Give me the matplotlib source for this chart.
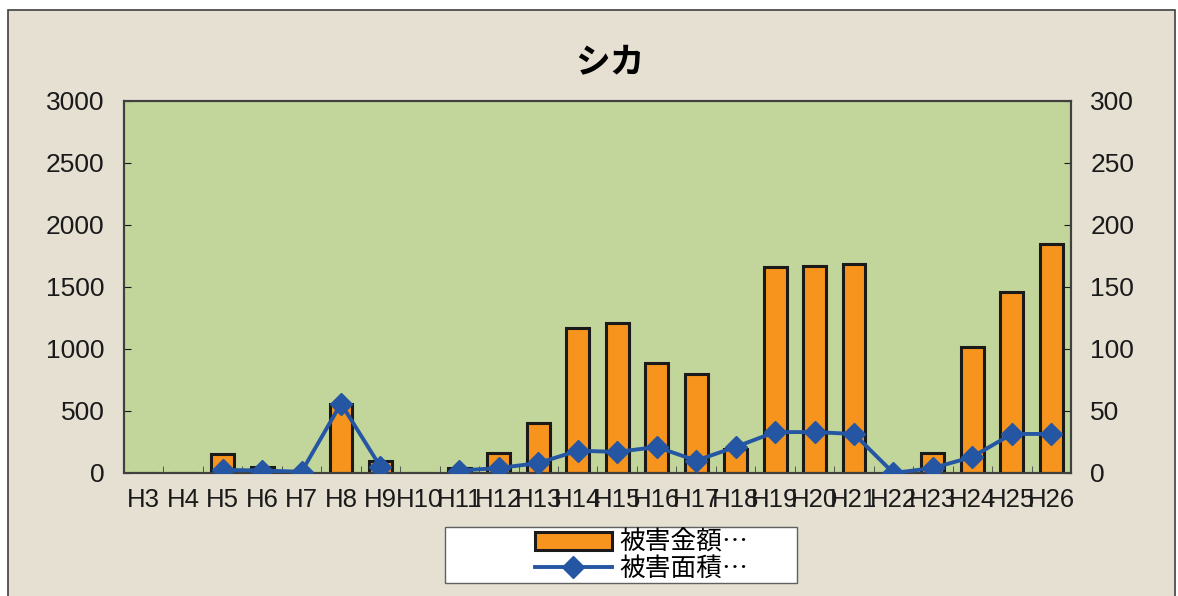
import numpy as np
import matplotlib.pyplot as plt
from matplotlib.patches import Rectangle
from matplotlib.lines import Line2D

plt.rcParams['font.family'] = ['Liberation Sans Narrow', 'Liberation Sans', 'Noto Sans CJK JP']

# years (Heisei)
years = ['H3', 'H4', 'H5', 'H6', 'H7', 'H8', 'H9', 'H10', 'H11', 'H12', 'H13', 'H14',
         'H15', 'H16', 'H17', 'H18', 'H19', 'H20', 'H21', 'H22', 'H23', 'H24', 'H25', 'H26']
# damage amount (left axis)
amount = [0, 0, 150, 45, 0, 560, 100, 0, 40, 160, 400, 1170,
          1210, 890, 800, 190, 1660, 1670, 1685, 0, 160, 1020, 1460, 1845]
# damaged area (right axis), nan = no data
area = [np.nan, np.nan, 2.5, 2, 1, 56, 5, np.nan, 2, 4, 8, 18,
        17, 21, 10, 21, 33, 33, 31.5, 0, 4, 13, 31.5, 31.5]

bg = '#e6e0d3'
fs = 19
fig = plt.figure(figsize=(11.78, 5.96), dpi=100, facecolor='white')
# textured panel -> plain beige
fig.patches.append(Rectangle((8 / 1178, -0.01), (1175 - 8) / 1178, 1 - 10 / 596 + 0.01,
                             transform=fig.transFigure, facecolor=bg,
                             edgecolor='#404040', linewidth=1.2, zorder=-10))

ax = fig.add_axes([124 / 1178, 1 - 473 / 596, (1071 - 124) / 1178, (473 - 101) / 596])
ax.set_facecolor('#c2d59b')
x = np.arange(len(years))
ax.bar(x, amount, width=0.58, color='#f7941d', edgecolor='#1a1a1a', linewidth=2.2, zorder=2)
ax.set_ylim(0, 3000)
ax.set_yticks(range(0, 3001, 500))
ax.set_xlim(-0.5, len(years) - 0.5)
ax.set_xticks(x)
ax.set_xticklabels(years)
ax.set_xticks(np.arange(-0.5, len(years), 1), minor=True)
ax.tick_params(axis='x', which='major', length=0, pad=11, labelsize=18.5, colors='#1a1a1a')
ax.tick_params(axis='x', which='minor', direction='in', length=5, color='#404040')
ax.tick_params(axis='y', direction='in', length=5, pad=14, labelsize=fs, colors='#1a1a1a')
for s in ax.spines.values():
    s.set_color('#404040')
    s.set_linewidth(1.5)

ax2 = ax.twinx()
ax2.plot(x, area, color='#2456a4', linewidth=2.8, marker='D', markersize=11, zorder=3)
ax2.set_ylim(0, 300)
ax2.set_yticks(range(0, 301, 50))
ax2.tick_params(axis='y', direction='in', length=5, pad=14, labelsize=fs, colors='#1a1a1a')
for s in ax2.spines.values():
    s.set_color('#404040')
    s.set_linewidth(1.5)

fig.text(610 / 1178, 1 - 62 / 596, 'シカ', ha='center', va='center', fontsize=25,
         fontweight='bold', family=['Noto Sans CJK JP'])

# legend box
fig.patches.append(Rectangle((445 / 1178, 1 - 583 / 596), 352 / 1178, 56 / 596,
                             transform=fig.transFigure, facecolor='white',
                             edgecolor='#606060', linewidth=1, zorder=5))
handles = [Rectangle((0, 0), 1, 1, facecolor='#f7941d', edgecolor='#1a1a1a', linewidth=2.2),
           Line2D([], [], color='#2456a4', linewidth=2.8, marker='D', markersize=11)]
leg = fig.legend(handles, ['被害金額…', '被害面積…'], loc='center left',
                 bbox_to_anchor=(522 / 1178, 1 - 556 / 596), frameon=False,
                 prop={'family': ['Noto Sans CJK JP'], 'size': 18.5}, handlelength=3.0,
                 handletextpad=0.3, labelspacing=0.0, borderpad=0)
leg.set_zorder(6)

fig.savefig('out.png', dpi=100, facecolor=fig.get_facecolor())
